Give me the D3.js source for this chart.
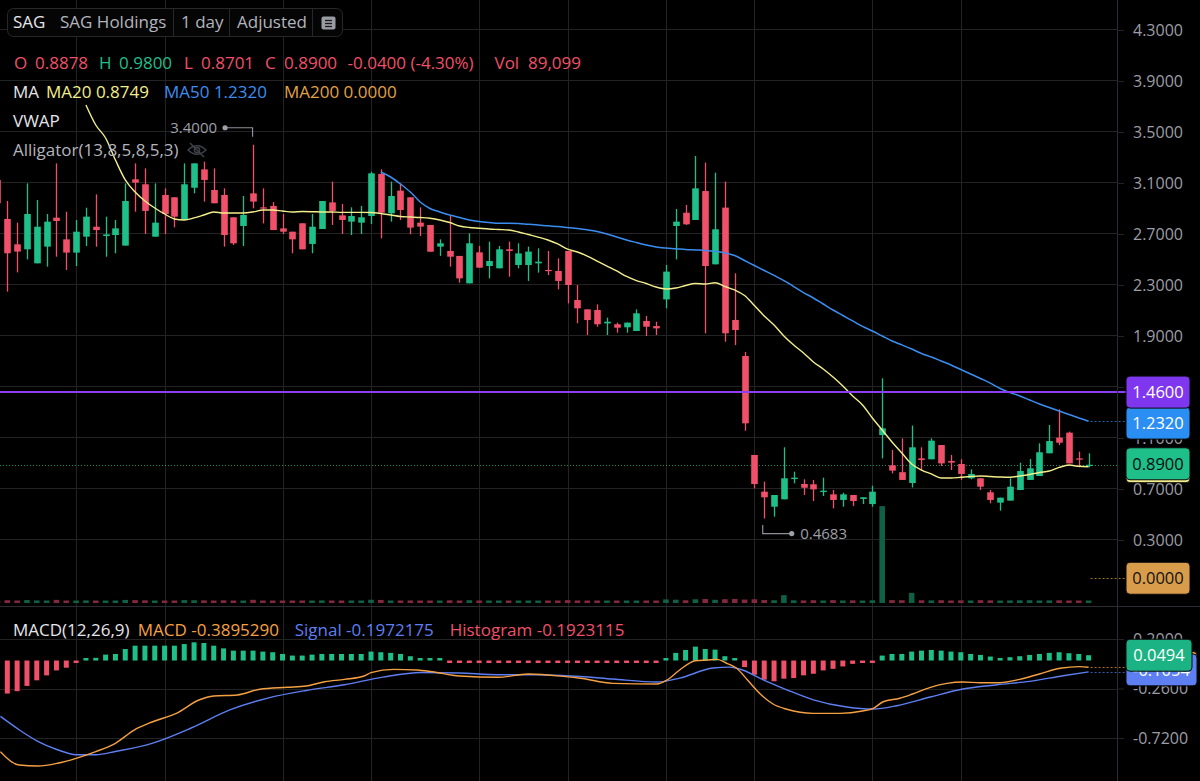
<!DOCTYPE html>
<html>
<head>
<meta charset="utf-8">
<title>SAG Holdings - 1 day</title>
<script src="https://cdn.jsdelivr.net/npm/d3@7"></script>
<style>
  html, body { margin: 0; padding: 0; background: #000; }
  svg { display: block; font-family: 'Open Sans', sans-serif; }
</style>
</head>
<body>
<div id="chart"></div>
<script>
// daily bars; index -1 is the bar cut by the left edge, 110 is the last one
var firstIndex = -1;
var opens = [3.124,
  2.818, 2.619, 2.580, 2.470, 2.601, 2.828, 2.658, 2.554, 2.679, 2.757,
  2.684, 2.692, 2.609, 3.129, 3.090, 2.679, 3.006, 2.988, 2.810, 3.063,
  3.207, 3.045, 3.006, 2.831, 2.763, 3.019, 2.909, 2.920, 2.744, 2.718,
  2.784, 2.622, 2.739, 2.948, 2.846, 2.797, 2.789, 2.841, 3.171, 2.862,
  3.040, 2.988, 2.789, 2.771, 2.601, 2.567, 2.528, 2.313, 2.556, 2.449,
  2.431, 2.580, 2.457, 2.457, 2.470, 2.418, 2.410, 2.567, 2.182, 2.109,
  2.104, 1.999, 1.992, 1.968, 1.939, 2.018, 1.978, 2.187, 2.763, 2.867,
  2.810, 3.037, 2.462, 2.907, 2.026, 1.743, 0.967, 0.679, 0.561, 0.619,
  0.778, 0.739, 0.737, 0.676, 0.658, 0.614, 0.653, 0.622, 0.582, 1.123,
  0.886, 0.832, 0.747, 0.940, 0.933, 1.045, 0.920, 0.896, 0.784, 0.784,
  0.674, 0.593, 0.609, 0.692, 0.771, 0.802, 0.980, 1.103, 1.142, 0.940, 0.8878];
var highs = [3.200,
  2.959, 2.789, 3.097, 2.967, 2.857, 3.254, 2.875, 2.810, 2.906, 3.011,
  2.836, 2.810, 3.097, 3.254, 3.215, 3.097, 3.058, 2.988, 3.254, 3.254,
  3.267, 3.215, 3.058, 2.831, 2.998, 3.400, 3.058, 2.950, 2.857, 2.718,
  2.784, 2.857, 2.959, 3.111, 2.936, 2.909, 2.920, 3.189, 3.207, 3.111,
  3.097, 2.988, 2.909, 2.771, 2.658, 2.841, 2.528, 2.705, 2.606, 2.640,
  2.606, 2.640, 2.627, 2.601, 2.588, 2.567, 2.509, 2.567, 2.300, 2.109,
  2.148, 2.044, 2.005, 2.005, 2.109, 2.057, 2.012, 2.457, 2.896, 2.928,
  3.312, 3.260, 3.181, 3.111, 2.392, 1.775, 0.967, 0.758, 0.653, 1.027,
  0.836, 0.776, 0.771, 0.789, 0.692, 0.671, 0.653, 0.635, 0.726, 1.568,
  1.006, 1.097, 1.198, 1.027, 1.097, 1.045, 0.967, 0.933, 0.854, 0.784,
  0.692, 0.632, 0.784, 0.906, 0.935, 1.058, 1.202, 1.325, 1.150, 0.993, 0.9800];
var lows = [2.900,
  2.248, 2.399, 2.501, 2.470, 2.444, 2.522, 2.418, 2.449, 2.606, 2.601,
  2.522, 2.549, 2.609, 2.875, 2.700, 2.679, 2.700, 2.752, 2.810, 3.019,
  2.954, 2.941, 2.601, 2.614, 2.606, 2.901, 2.783, 2.731, 2.700, 2.549,
  2.580, 2.549, 2.739, 2.771, 2.700, 2.692, 2.700, 2.778, 2.666, 2.797,
  2.810, 2.698, 2.684, 2.561, 2.528, 2.444, 2.318, 2.313, 2.436, 2.352,
  2.431, 2.365, 2.431, 2.332, 2.397, 2.378, 2.266, 2.156, 2.000, 1.908,
  1.973, 1.908, 1.926, 1.926, 1.939, 1.900, 1.908, 2.117, 2.501, 2.771,
  2.810, 1.921, 2.462, 1.855, 1.829, 1.157, 0.705, 0.4683, 0.483, 0.619,
  0.744, 0.653, 0.606, 0.645, 0.548, 0.561, 0.567, 0.582, 0.561, 0.940,
  0.823, 0.771, 0.712, 0.849, 0.933, 0.880, 0.849, 0.771, 0.776, 0.692,
  0.588, 0.530, 0.609, 0.692, 0.771, 0.802, 0.980, 1.045, 0.901, 0.870, 0.8701];
var closes = [2.941,
  2.549, 2.562, 2.857, 2.757, 2.797, 2.802, 2.554, 2.718, 2.836, 2.731,
  2.697, 2.744, 2.959, 3.103, 2.881, 2.789, 2.857, 2.836, 3.090, 3.254,
  3.124, 2.941, 2.692, 2.627, 2.849, 2.954, 2.899, 2.731, 2.718, 2.658,
  2.580, 2.757, 2.959, 2.881, 2.810, 2.841, 2.831, 3.176, 2.867, 2.998,
  2.888, 2.750, 2.758, 2.561, 2.627, 2.522, 2.352, 2.627, 2.436, 2.488,
  2.580, 2.567, 2.548, 2.562, 2.483, 2.410, 2.332, 2.300, 2.117, 2.025,
  1.992, 2.012, 1.965, 2.005, 2.078, 1.973, 1.960, 2.405, 2.797, 2.776,
  3.058, 2.449, 2.737, 1.921, 1.947, 1.215, 0.739, 0.635, 0.653, 0.784,
  0.789, 0.710, 0.697, 0.687, 0.614, 0.658, 0.606, 0.635, 0.679, 1.176,
  0.844, 0.771, 1.027, 0.927, 1.079, 0.901, 0.907, 0.818, 0.818, 0.718,
  0.614, 0.632, 0.718, 0.841, 0.862, 0.988, 1.076, 1.063, 0.901, 0.930, 0.8900];
var volumes = [118000,
  126000, 104000, 132000, 115000, 109000, 141000, 112000, 101000, 117000, 103000,
  96000, 94000, 138000, 129000, 121000, 107000, 113000, 99000, 131000, 124000,
  119000, 108000, 122000, 104000, 106000, 142000, 101000, 111000, 97000, 103000,
  109000, 96000, 118000, 112000, 99000, 93000, 95000, 146000, 137000, 113000,
  110000, 116000, 100000, 105000, 94000, 121000, 110000, 125000, 103000, 97000,
  101000, 95000, 99000, 106000, 93000, 96000, 108000, 129000, 115000, 112000,
  101000, 96000, 93000, 98000, 109000, 102000, 95000, 160000, 148000, 124000,
  166000, 178000, 143000, 171000, 182000, 154000, 168000, 134000, 124000, 352000,
  121000, 116000, 124000, 112000, 129000, 114000, 119000, 108000, 122000, 4350000,
  130000, 126000, 455000, 122000, 116000, 124000, 109000, 118000, 114000, 126000,
  120000, 112000, 116000, 122000, 125000, 114000, 117000, 121000, 112000, 109000, 89099];
var histogram = [-0.330,
  -0.307, -0.285, -0.236, -0.184, -0.138, -0.092, -0.067, -0.021, 0.015, 0.025,
  0.055, 0.061, 0.107, 0.138, 0.138, 0.138, 0.138, 0.138, 0.153, 0.169,
  0.163, 0.138, 0.113, 0.092, 0.092, 0.092, 0.083, 0.077, 0.061, 0.046,
  0.046, 0.055, 0.061, 0.061, 0.061, 0.061, 0.061, 0.083, 0.077, 0.071,
  0.061, 0.040, 0.021, 0.006, 0.004, -0.008, -0.010, -0.012, -0.012, -0.010,
  -0.008, -0.006, -0.008, -0.010, -0.012, -0.012, -0.014, -0.014, -0.015, -0.021,
  -0.021, -0.018, -0.015, -0.015, -0.012, -0.009, -0.006, 0.021, 0.071, 0.098,
  0.129, 0.107, 0.101, 0.040, 0.015, -0.061, -0.132, -0.178, -0.193, -0.169,
  -0.163, -0.138, -0.123, -0.092, -0.077, -0.055, -0.031, -0.015, -0.006, 0.046,
  0.061, 0.061, 0.083, 0.092, 0.098, 0.092, 0.083, 0.077, 0.061, 0.052,
  0.037, 0.021, 0.031, 0.040, 0.052, 0.061, 0.071, 0.077, 0.068, 0.061, 0.0494];

// moving averages, first value sits on bar ma20Start / ma50Start
var ma20Start = 8;
var ma20 = [3.712, 3.555,
  3.453, 3.280, 3.124, 3.029, 2.959, 2.904, 2.857, 2.818, 2.810, 2.826,
  2.849, 2.873, 2.865, 2.865, 2.865, 2.873, 2.888, 2.888, 2.880, 2.873,
  2.876, 2.875, 2.873, 2.873, 2.870, 2.870, 2.870, 2.869, 2.861, 2.849,
  2.837, 2.833, 2.829, 2.823, 2.810, 2.790, 2.763, 2.751, 2.745, 2.739,
  2.735, 2.731, 2.716, 2.696, 2.676, 2.653, 2.622, 2.582, 2.559, 2.527,
  2.488, 2.449, 2.410, 2.367, 2.335, 2.312, 2.284, 2.269, 2.276, 2.296,
  2.312, 2.308, 2.318, 2.288, 2.261, 2.218, 2.139, 2.057, 1.986, 1.900,
  1.829, 1.767, 1.696, 1.641, 1.578, 1.508, 1.429, 1.359, 1.257, 1.163,
  1.069, 0.982, 0.896, 0.849, 0.818, 0.786, 0.786, 0.792, 0.798, 0.802,
  0.798, 0.794, 0.792, 0.802, 0.814, 0.829, 0.841, 0.869, 0.888, 0.878, 0.8749];
var ma50Start = 38;
var ma50 = [3.186, 3.147,
  3.092, 3.029, 2.951, 2.900, 2.873, 2.849, 2.829, 2.810, 2.798, 2.790,
  2.784, 2.784, 2.782, 2.776, 2.771, 2.764, 2.759, 2.751, 2.743, 2.733,
  2.720, 2.700, 2.676, 2.653, 2.633, 2.614, 2.598, 2.590, 2.585, 2.579,
  2.575, 2.571, 2.564, 2.551, 2.531, 2.492, 2.453, 2.414, 2.375, 2.335,
  2.288, 2.241, 2.198, 2.151, 2.104, 2.061, 2.018, 1.975, 1.939, 1.900,
  1.861, 1.830, 1.798, 1.763, 1.735, 1.704, 1.673, 1.637, 1.602, 1.567,
  1.531, 1.488, 1.457, 1.430, 1.398, 1.367, 1.339, 1.312, 1.284, 1.257, 1.2320];
var ma200Last = 0;
var alertLevel = 1.46;

// MACD(12,26,9) lines as [bar, value]
var macdLine = [[-0.7, -0.847], [1.2, -0.971], [3.1, -0.980], [5.1, -0.955], [7, -0.909], [9, -0.847],
  [11, -0.769], [12.9, -0.646], [14.8, -0.569], [17.2, -0.491], [19.5, -0.367], [21, -0.330],
  [23.4, -0.320], [25.7, -0.267], [28.5, -0.249], [30.4, -0.237], [32.3, -0.197], [34.3, -0.175],
  [36.3, -0.144], [37, -0.113], [39.3, -0.082], [41.7, -0.088], [43.2, -0.104], [46, -0.144],
  [49.9, -0.156], [53, -0.125], [56.8, -0.150], [58.3, -0.165], [61.6, -0.212], [66.1, -0.218],
  [67.1, -0.181], [68.4, -0.088], [70, -0.002], [71.2, 0.005], [72.2, 0.011], [73.2, -0.026],
  [74.2, -0.072], [75.3, -0.181], [76.6, -0.311], [77.9, -0.404], [79.3, -0.453], [82, -0.491],
  [84.7, -0.491], [87, -0.469], [88.1, -0.444], [89.1, -0.383], [90.8, -0.351], [92.1, -0.311],
  [93.9, -0.249], [95.6, -0.212], [97.2, -0.200], [99, -0.206], [101, -0.206], [103, -0.175],
  [105, -0.125], [107.1, -0.072], [109.1, -0.057], [110, -0.063]];
var signalLine = [[-0.7, -0.519], [1.2, -0.643], [3.1, -0.751], [5.1, -0.829], [7, -0.875], [9, -0.875],
  [11, -0.845], [14.8, -0.767], [18.7, -0.627], [22.7, -0.457], [26.5, -0.349], [30.4, -0.278],
  [34.3, -0.225], [38.2, -0.154], [42.1, -0.111], [46, -0.116], [49.9, -0.132], [53.8, -0.132],
  [56.8, -0.141], [58.3, -0.148], [61.6, -0.172], [66.1, -0.200], [68.4, -0.163], [71.8, -0.070],
  [73.5, -0.061], [74.5, -0.079], [76.9, -0.179], [79.3, -0.272], [82, -0.365], [85.4, -0.432],
  [88.1, -0.451], [90.5, -0.420], [93.9, -0.339], [97.2, -0.265], [100.7, -0.225], [104, -0.194],
  [107.4, -0.141], [110, -0.1054]];

// axes
var priceTicks = [4.3, 3.9, 3.5, 3.1, 2.7, 2.3, 1.9, 1.5, 1.1, 0.7, 0.3];
var macdTicks = [0.2, -0.26, -0.72];
var gridDays = [7, 16, 28, 37, 48, 57, 67, 76, 88, 97];
var highMark = { bar: 25, value: 3.40 };
var lowMark = { bar: 77, value: 0.4683 };

(function () {
  'use strict';

  var W = 1200, H = 781;
  var plotRight = 1117, paneSplit = 606;
  var up = '#1fbf8a', down = '#f05069';
  var maYellow = '#f3ee8c', maBlue = '#3a8ef0', maOrange = '#e0a247';
  var macdOrange = '#f5a043', sigBlue = '#5d7ff2', purple = '#8a3ff5';

  var loc = d3.formatLocale({ decimal: '.', thousands: ',', grouping: [3], currency: ['$', ''], minus: '-' });
  var f4 = loc.format('.4f'), fPct = loc.format('.2f'), fVol = loc.format(',');

  var x = d3.scaleLinear().domain([0, 110]).range([7.3, 1088.6]);
  var y = d3.scaleLinear().domain([0.3, 4.3]).range([540, 30]);
  var ym = d3.scaleLinear().domain([-0.72, 0.2]).range([738, 639]);
  var yv = d3.scaleLinear().domain([0, 4.4e6]).range([603, 505]);

  var bars = closes.map(function (c, k) {
    return { i: k + firstIndex, o: opens[k], h: highs[k], l: lows[k], c: c, v: volumes[k], hist: histogram[k] };
  });
  var last = bars[bars.length - 1], prev = bars[bars.length - 2];

  var svg = d3.select('#chart').append('svg').attr('width', W).attr('height', H);
  svg.append('rect').attr('width', W).attr('height', H).attr('fill', '#000');

  var defs = svg.append('defs');
  defs.append('clipPath').attr('id', 'clip-price').append('rect')
    .attr('x', 0).attr('y', 0).attr('width', plotRight).attr('height', paneSplit);
  defs.append('clipPath').attr('id', 'clip-macd').append('rect')
    .attr('x', 0).attr('y', paneSplit + 1).attr('width', plotRight).attr('height', H - paneSplit);

  // Grid
  var grid = svg.append('g').attr('stroke', '#232323').attr('stroke-width', 1);
  grid.selectAll('line.v').data(gridDays).enter().append('line')
    .attr('x1', function (d) { return Math.round(x(d)) + 0.5; })
    .attr('x2', function (d) { return Math.round(x(d)) + 0.5; })
    .attr('y1', 0).attr('y2', H);
  grid.selectAll('line.hp').data(priceTicks).enter().append('line')
    .attr('x1', 0).attr('x2', plotRight)
    .attr('y1', function (d) { return Math.round(y(d)) - 0.5; })
    .attr('y2', function (d) { return Math.round(y(d)) - 0.5; });
  grid.selectAll('line.hm').data(macdTicks).enter().append('line')
    .attr('x1', 0).attr('x2', plotRight)
    .attr('y1', function (d) { return Math.round(ym(d)) + 0.5; })
    .attr('y2', function (d) { return Math.round(ym(d)) + 0.5; });

  // Price pane
  var price = svg.append('g').attr('clip-path', 'url(#clip-price)');

  price.selectAll('rect.vol').data(bars).enter().append('rect')
    .attr('x', function (d) { return x(d.i) - 2.8; })
    .attr('width', 5.6)
    .attr('y', function (d) { return Math.min(yv(d.v), yv(0) - 2.5); })
    .attr('height', function (d) { return Math.max(2.5, yv(0) - yv(d.v)); })
    .attr('fill', function (d) { return d.c >= d.o ? '#0f6046' : '#82283f'; });

  price.append('line')
    .attr('x1', 0).attr('x2', plotRight)
    .attr('y1', Math.round(y(last.c)) + 0.5).attr('y2', Math.round(y(last.c)) + 0.5)
    .attr('stroke', up).attr('stroke-width', 1).attr('stroke-dasharray', '1,2').attr('opacity', 0.75);

  var candle = price.selectAll('g.candle').data(bars).enter().append('g');
  candle.append('line')
    .attr('x1', function (d) { return Math.round(x(d.i)) + 0.5; })
    .attr('x2', function (d) { return Math.round(x(d.i)) + 0.5; })
    .attr('y1', function (d) { return y(d.h); })
    .attr('y2', function (d) { return y(d.l); })
    .attr('stroke', function (d) { return d.c >= d.o ? up : down; })
    .attr('stroke-width', 1.3);
  candle.append('rect')
    .attr('x', function (d) { return Math.round(x(d.i)) + 0.5 - 3.3; })
    .attr('width', 6.6)
    .attr('y', function (d) { return y(Math.max(d.o, d.c)); })
    .attr('height', function (d) { return Math.max(1.2, Math.abs(y(d.o) - y(d.c))); })
    .attr('fill', function (d) { return d.c >= d.o ? up : down; });

  var maLine = d3.line()
    .x(function (d) { return x(d[0]); })
    .y(function (d) { return y(d[1]); })
    .curve(d3.curveMonotoneX);
  price.append('path')
    .datum(ma50.map(function (v, k) { return [k + ma50Start, v]; }))
    .attr('d', maLine).attr('fill', 'none').attr('stroke', maBlue).attr('stroke-width', 1.5);
  price.append('path')
    .datum(ma20.map(function (v, k) { return [k + ma20Start, v]; }))
    .attr('d', maLine).attr('fill', 'none').attr('stroke', maYellow).attr('stroke-width', 1.4);

  // alert level runs on into its tag
  svg.append('line')
    .attr('x1', 0).attr('x2', 1127)
    .attr('y1', y(alertLevel)).attr('y2', y(alertLevel))
    .attr('stroke', purple).attr('stroke-width', 2);

  // dotted leaders from the last bar to the scale
  function leader(g, yy, color) {
    g.append('line')
      .attr('x1', x(110) + 2).attr('x2', plotRight + 9)
      .attr('y1', Math.round(yy) + 0.5).attr('y2', Math.round(yy) + 0.5)
      .attr('stroke', color).attr('stroke-width', 1).attr('stroke-dasharray', '2,2').attr('opacity', 0.7);
  }
  leader(svg, y(ma50[ma50.length - 1]), maBlue);
  leader(svg, y(ma200Last), maOrange);

  // high / low markers
  var hx = x(highMark.bar), hy = y(highMark.value);
  var marks = svg.append('g').attr('fill', '#9ea1a9').attr('font-size', 15);
  marks.append('path')
    .attr('d', 'M' + (hx - 0.5) + ',' + (hy - 8) + 'V' + (hy - 17) + 'H' + (hx - 28))
    .attr('fill', 'none').attr('stroke', '#8d9098').attr('stroke-width', 1.2);
  marks.append('circle').attr('cx', hx - 28).attr('cy', hy - 17).attr('r', 2.6);
  marks.append('text').attr('x', hx - 36).attr('y', hy - 17).attr('dy', '0.35em')
    .attr('text-anchor', 'end').text(f4(highMark.value));

  var lx = x(lowMark.bar), ly = y(lowMark.value);
  marks.append('path')
    .attr('d', 'M' + (lx - 1.5) + ',' + (ly + 6.5) + 'V' + (ly + 15) + 'H' + (lx + 27.5))
    .attr('fill', 'none').attr('stroke', '#8d9098').attr('stroke-width', 1.2);
  marks.append('circle').attr('cx', lx + 27.5).attr('cy', ly + 15).attr('r', 2.6);
  marks.append('text').attr('x', lx + 36).attr('y', ly + 15).attr('dy', '0.35em').text(f4(lowMark.value));

  // MACD pane
  var macd = svg.append('g').attr('clip-path', 'url(#clip-macd)');
  macd.selectAll('rect.hist').data(bars).enter().append('rect')
    .attr('x', function (d) { return x(d.i) - 2.5; })
    .attr('width', 5)
    .attr('y', function (d) { return d.hist >= 0 ? Math.min(ym(d.hist), ym(0) - 2.5) : ym(0); })
    .attr('height', function (d) { return Math.max(2.5, Math.abs(ym(d.hist) - ym(0))); })
    .attr('fill', function (d) { return d.hist >= 0 ? up : down; });

  var mLine = d3.line()
    .x(function (d) { return x(d[0]); })
    .y(function (d) { return ym(d[1]); })
    .curve(d3.curveMonotoneX);
  macd.append('path').datum(signalLine).attr('d', mLine)
    .attr('fill', 'none').attr('stroke', sigBlue).attr('stroke-width', 1.4);
  macd.append('path').datum(macdLine).attr('d', mLine)
    .attr('fill', 'none').attr('stroke', macdOrange).attr('stroke-width', 1.4);
  leader(svg, ym(macdLine[macdLine.length - 1][1]), macdOrange);
  leader(svg, ym(signalLine[signalLine.length - 1][1]), sigBlue);

  // Separators
  svg.append('line').attr('x1', 0).attr('x2', W).attr('y1', paneSplit + 0.5).attr('y2', paneSplit + 0.5)
    .attr('stroke', '#2a2d33').attr('stroke-width', 1);
  svg.append('line').attr('x1', plotRight + 0.5).attr('x2', plotRight + 0.5).attr('y1', 0).attr('y2', H)
    .attr('stroke', '#2a2d33').attr('stroke-width', 1);

  // Right scales
  function styleAxis(g) {
    g.select('.domain').remove();
    g.selectAll('.tick line').attr('stroke', '#232323');
    g.selectAll('.tick text').attr('fill', '#9b9ea6').attr('font-size', 16)
      .attr('font-family', "'Open Sans', sans-serif");
  }
  svg.append('g').attr('transform', 'translate(' + plotRight + ',0)')
    .call(d3.axisRight(y).tickValues(priceTicks).tickFormat(f4).tickSize(7).tickPadding(9))
    .call(styleAxis);
  svg.append('g').attr('transform', 'translate(' + plotRight + ',0)')
    .call(d3.axisRight(ym).tickValues(macdTicks).tickFormat(f4).tickSize(7).tickPadding(9))
    .call(styleAxis);

  function tag(yc, w, fill, txt, color) {
    var g = svg.append('g');
    g.append('rect').attr('x', 1126).attr('y', yc - 16).attr('width', w).attr('height', 32)
      .attr('rx', 4).attr('fill', fill).attr('stroke', '#0b0b0b').attr('stroke-width', 1);
    g.append('text').attr('x', 1126 + w / 2).attr('y', yc).attr('dy', '0.36em')
      .attr('text-anchor', 'middle').attr('font-size', 16.5).attr('fill', color).text(txt);
  }
  var yAlert = y(alertLevel);
  tag(y(ma200Last), 64, '#d99c4b', f4(ma200Last), '#111');
  tag(y(ma20[ma20.length - 1]), 64, maYellow, f4(ma20[ma20.length - 1]), '#111');
  tag(y(last.c) - 1, 64, up, f4(last.c), '#0b0b0b');
  tag(Math.max(y(ma50[ma50.length - 1]), yAlert + 31), 64, '#2b8ef2', f4(ma50[ma50.length - 1]), '#fff');
  tag(yAlert, 64, '#7f36ef', f4(alertLevel), '#fff');

  tag(ym(macdLine[macdLine.length - 1][1]), 71, macdOrange, f4(macdLine[macdLine.length - 1][1]), '#111');
  tag(ym(signalLine[signalLine.length - 1][1]) - 2, 71, sigBlue, f4(signalLine[signalLine.length - 1][1]), '#fff');
  tag(ym(last.hist), 66, '#1bb383', f4(last.hist), '#fff');

  // Legend
  var legend = svg.append('g').attr('font-size', 17);
  function txt(xx, yy, s, color) {
    legend.append('text').attr('x', xx).attr('y', yy).attr('dy', '0.35em').attr('fill', color).text(s);
  }

  legend.append('rect').attr('x', 7.5).attr('y', 8.5).attr('width', 335).attr('height', 28).attr('rx', 6)
    .attr('fill', '#050505').attr('stroke', '#26282c');
  [173.5, 229.5, 312.5].forEach(function (sx) {
    legend.append('line').attr('x1', sx).attr('x2', sx).attr('y1', 9).attr('y2', 36).attr('stroke', '#26282c');
  });
  txt(13, 22.5, 'SAG', '#e4e6eb');
  txt(60, 22.5, 'SAG Holdings', '#b2b5be');
  txt(181, 22.5, '1 day', '#b2b5be');
  txt(237, 22.5, 'Adjusted', '#b2b5be');
  legend.append('rect').attr('x', 321.5).attr('y', 16.5).attr('width', 14).attr('height', 13).attr('rx', 2).attr('fill', '#9a9ca3');
  [20.5, 23.5, 26.5].forEach(function (ly2) {
    legend.append('line').attr('x1', 325).attr('x2', 332).attr('y1', ly2).attr('y2', ly2)
      .attr('stroke', '#1a1a1a').attr('stroke-width', 1.3);
  });

  var chg = last.c - prev.c;
  var headColor = chg < 0 ? down : up;
  var candleColor = last.c >= last.o ? up : down;
  txt(14, 63.5, 'O', headColor); txt(35, 63.5, f4(last.o), headColor);
  txt(99, 63.5, 'H', candleColor); txt(119, 63.5, f4(last.h), candleColor);
  txt(184, 63.5, 'L', headColor); txt(201, 63.5, f4(last.l), headColor);
  txt(265, 63.5, 'C', headColor); txt(284, 63.5, f4(last.c), headColor);
  txt(347.5, 63.5, f4(chg) + ' (' + fPct(chg / prev.c * 100) + '%)', headColor);
  txt(494.5, 63.5, 'Vol', headColor); txt(528, 63.5, fVol(last.v), headColor);

  txt(13, 92.5, 'MA', '#e4e6eb');
  txt(46, 92.5, 'MA20 ' + f4(ma20[ma20.length - 1]), maYellow);
  txt(164, 92.5, 'MA50 ' + f4(ma50[ma50.length - 1]), maBlue);
  txt(284, 92.5, 'MA200 ' + f4(ma200Last), maOrange);
  txt(13, 121.5, 'VWAP', '#e4e6eb');
  txt(13, 150, 'Alligator(13,8,5,8,5,3)', '#b2b5be');

  var eye = legend.append('g').attr('fill', 'none').attr('stroke', '#3d4048').attr('stroke-width', 1.5);
  eye.append('path').attr('d', 'M188,150 Q197,141.5 206,150 Q197,158.5 188,150 Z');
  eye.append('circle').attr('cx', 197).attr('cy', 150).attr('r', 2.6);
  eye.append('line').attr('x1', 190).attr('y1', 143).attr('x2', 204).attr('y2', 157);

  txt(13, 630, 'MACD(12,26,9)', '#e4e6eb');
  txt(137.8, 630, 'MACD -0.3895290', macdOrange);
  txt(294.7, 630, 'Signal -0.1972175', sigBlue);
  txt(449.7, 630, 'Histogram -0.1923115', down);
})();
</script>
</body>
</html>
